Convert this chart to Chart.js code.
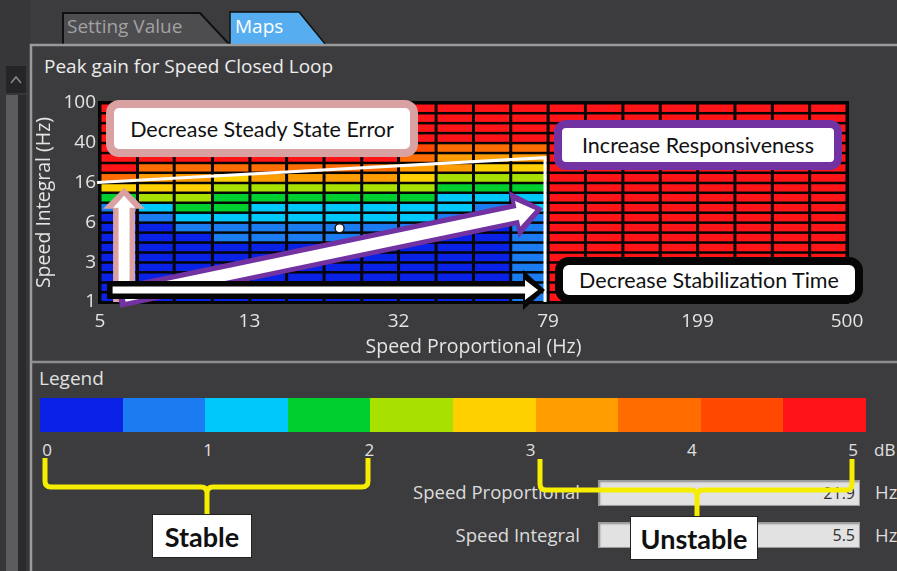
<!DOCTYPE html>
<html>
<head>
<meta charset="utf-8">
<script src="https://cdn.jsdelivr.net/npm/chart.js@4.4.1/dist/chart.umd.min.js"></script>
<style>
html,body{margin:0;padding:0;}
body{width:897px;height:571px;overflow:hidden;background:#3c3c3e;position:relative;font-family:"Open Sans","Noto Sans",sans-serif;color:#e4e4e4;}
.abs{position:absolute;}
.note{position:absolute;box-sizing:border-box;background:#fff;border-style:solid;border-width:8px;display:flex;align-items:center;justify-content:center;font-family:Lato,"Open Sans",sans-serif;font-size:21.5px;color:#111;white-space:nowrap;}
.lbl{position:absolute;font-size:18.5px;color:#dcdcdc;white-space:nowrap;line-height:22px;}
.field{position:absolute;box-sizing:border-box;background:#e2e2e2;border:1px solid #9c9c9c;box-shadow:inset 1px 1px 2px #8a8a8a;font-size:16px;color:#303030;text-align:right;padding-right:4px;line-height:24px;}
.tag{position:absolute;box-sizing:border-box;background:#fff;border:1px solid #222;display:flex;align-items:center;justify-content:center;font-family:Lato,"Open Sans",sans-serif;font-weight:bold;font-size:27px;color:#111;}
</style>
</head>
<body>
<script>
// ---- data ----
// column edges of the map along Speed Proportional (Hz)
const speedProportionalEdges = [5, 6.3, 7.9, 10, 12.6, 15.8, 19.9, 25.1, 31.5, 39.7, 50, 62.9, 79.2, 99.7, 125.6, 158.1, 199.1, 250.6, 315.5, 397.2, 500];
// row edges of the map along Speed Integral (Hz)
const speedIntegralEdges = [1, 1.26, 1.58, 2, 2.51, 3.16, 3.98, 5.01, 6.31, 7.94, 10, 12.6, 15.8, 20, 25.1, 31.6, 39.8, 50.1, 63.1, 79.4, 100];
const xTickValues = [5, 12.56, 31.5, 79.2, 199, 500];
const xTickLabels = ['5', '13', '32', '79', '199', '500'];
const yTickValues = [1, 2.51, 6.31, 15.85, 39.8, 100];
const yTickLabels = ['1', '3', '6', '16', '40', '100'];
// peak gain (dB), one row per Speed Integral band, bottom row first
const peakGainDb = [
  [0.2,0.2,0.2,0.2,0.2,0.2,0.2,0.2,0.2,0.2,0.2,0.7,4.8,4.8,4.8,4.8,4.8,4.8,4.8,4.8],
  [0.2,0.2,0.2,0.2,0.2,0.2,0.2,0.2,0.2,0.2,0.2,0.7,4.8,4.8,4.8,4.8,4.8,4.8,4.8,4.8],
  [0.2,0.2,0.2,0.2,0.2,0.2,0.2,0.2,0.2,0.2,0.2,0.7,4.8,4.8,4.8,4.8,4.8,4.8,4.8,4.8],
  [0.2,0.2,0.2,0.2,0.2,0.2,0.2,0.2,0.2,0.2,0.2,0.7,4.8,4.8,4.8,4.8,4.8,4.8,4.8,4.8],
  [0.2,0.2,0.2,0.2,0.2,0.2,0.2,0.2,0.2,0.2,0.2,0.7,4.8,4.8,4.8,4.8,4.8,4.8,4.8,4.8],
  [0.2,0.2,0.2,0.2,0.2,0.2,0.2,0.2,0.2,0.2,0.2,0.7,4.8,4.8,4.8,4.8,4.8,4.8,4.8,4.8],
  [0.2,0.2,0.2,0.7,0.7,0.7,0.7,0.7,0.3,0.3,0.3,0.7,4.8,4.8,4.8,4.8,4.8,4.8,4.8,4.8],
  [0.3,0.3,0.7,0.7,0.7,0.7,0.7,0.7,0.7,0.4,0.4,0.7,4.8,4.8,4.8,4.8,4.8,4.8,4.8,4.8],
  [0.4,0.7,1.2,1.2,1.2,1.2,1.2,1.2,1.2,0.8,0.8,0.8,4.8,4.8,4.8,4.8,4.8,4.8,4.8,4.8],
  [0.7,1.2,1.7,1.7,1.2,1.2,1.2,1.2,1.2,1.2,0.9,1.2,4.8,4.8,4.8,4.8,4.8,4.8,4.8,4.8],
  [1.7,2.2,2.2,1.7,1.7,1.7,1.7,1.7,1.7,1.3,1.3,1.3,4.8,4.8,4.8,4.8,4.8,4.8,4.8,4.8],
  [2.7,2.7,2.7,2.2,2.2,2.2,2.2,2.2,2.2,1.8,1.8,1.8,4.8,4.8,4.8,4.8,4.8,4.8,4.8,4.8],
  [3.7,3.2,3.2,2.7,3.2,3.2,3.2,3.2,2.8,2.3,2.3,2.3,4.8,4.8,4.8,4.8,4.8,4.8,4.8,4.8],
  [4.6,3.7,3.7,3.7,3.7,3.7,3.7,3.7,3.3,3.3,2.8,2.8,4.8,4.8,4.8,4.8,4.8,4.8,4.8,4.8],
  [4.8,4.8,4.8,4.8,4.8,4.8,4.8,4.7,3.8,3.3,3.3,3.3,4.8,4.8,4.8,4.8,4.8,4.8,4.8,4.8],
  [4.8,4.8,4.8,4.8,4.8,4.8,4.8,4.8,4.3,3.8,3.8,3.8,4.8,4.8,4.8,4.8,4.8,4.8,4.8,4.8],
  [4.8,4.8,4.8,4.8,4.8,4.8,4.8,4.8,4.8,4.8,4.8,4.8,4.8,4.8,4.8,4.8,4.8,4.8,4.8,4.8],
  [4.8,4.8,4.8,4.8,4.8,4.8,4.8,4.8,4.8,4.8,4.8,4.8,4.8,4.8,4.8,4.8,4.8,4.8,4.8,4.8],
  [4.8,4.8,4.8,4.8,4.8,4.8,4.8,4.8,4.8,4.8,4.8,4.8,4.8,4.8,4.8,4.8,4.8,4.8,4.8,4.8],
  [4.8,4.8,4.8,4.8,4.8,4.8,4.8,4.8,4.8,4.8,4.8,4.8,4.8,4.8,4.8,4.8,4.8,4.8,4.8,4.8]
];
// current operating point
const operatingKp = [21.9];
const operatingKi = [5.5];
// colour legend (0.5 dB per band) and its labels
const legendColors = ['#0a22e6','#1a7cf0','#00c8fa','#00cf30','#a8e000','#ffd000','#ff9c00','#ff6c00','#ff4800','#ff1418'];
const legendStepDb = 0.5;
const legendLabels = ['0','1','2','3','4','5'];
</script>

<svg class="abs" style="left:0;top:0" width="897" height="571">
  <rect x="0" y="0" width="30" height="571" fill="#37373a"/>
  <rect x="6" y="95" width="12" height="476" fill="#5c5c5e"/>
  <rect x="18" y="95" width="8" height="476" fill="#2b2b2d"/>
  <rect x="6" y="66" width="20" height="27" fill="#252527"/>
  <polyline points="11,83 16,77 21,83" fill="none" stroke="#8a8a8a" stroke-width="1.5"/>
  <polygon points="63,45 63,13 200,13 230,45" fill="#4d4d50" stroke="#101010" stroke-width="2"/>
  <polygon points="230,45 230,12 299,12 326,45" fill="#56aef0" stroke="#101010" stroke-width="1.5"/>
  <polyline points="31,571 31,45 897,45" fill="none" stroke="#9a9a9c" stroke-width="2.5"/>
  <line x1="31" y1="362" x2="897" y2="362" stroke="#8e8e90" stroke-width="2.5"/>
</svg>
<div class="abs" style="left:67px;top:13px;font-size:19px;color:#a2a2a2;white-space:nowrap;">Setting Value</div>
<div class="abs" style="left:235px;top:13px;font-size:19px;color:#ffffff;">Maps</div>
<div class="abs" style="left:44px;top:53px;font-size:19px;color:#ececec;white-space:nowrap;">Peak gain for Speed Closed Loop</div>

<canvas id="c" class="abs" style="left:30px;top:80px" width="867" height="280"></canvas>

<div class="note" style="left:106px;top:100px;width:312px;height:57px;border-color:#d9a1a1;border-radius:13px;">Decrease Steady State Error</div>
<div class="note" style="left:554px;top:120px;width:288px;height:50px;border-color:#7232a2;border-radius:12px;">Increase Responsiveness</div>
<div class="note" style="left:555px;top:257px;width:308px;height:46px;border-color:#060606;border-radius:14px;">Decrease Stabilization Time</div>

<div class="abs" style="left:39px;top:365px;font-size:19px;color:#e0e0e0;">Legend</div>
<div id="bar" class="abs" style="left:40px;top:398px;width:826px;height:34px;display:flex;"></div>
<div id="barlabels"></div>
<div class="abs" style="left:874px;top:438px;font-size:17px;color:#e0e0e0;">dB</div>

<div class="lbl" style="right:317px;top:481px;">Speed Proportional</div>
<div class="field" style="left:598px;top:480px;width:262px;height:26px;">21.9</div>
<div class="lbl" style="left:875px;top:481px;">Hz</div>
<div class="lbl" style="right:317px;top:524px;">Speed Integral</div>
<div class="field" style="left:598px;top:522px;width:262px;height:26px;">5.5</div>
<div class="lbl" style="left:875px;top:524px;">Hz</div>

<svg class="abs" style="left:0;top:0" width="897" height="571">
  <g fill="none" stroke="#f6ee00" stroke-width="5" stroke-linejoin="round" stroke-linecap="butt">
    <path d="M45,458 V481 Q45,487 51,487 H201 Q207,487 207,493 V514 M207,493 Q207,487 213,487 H362 Q368,487 368,481 V458"/>
    <path d="M540,459 V484 Q540,490 546,490 H691 Q697,490 697,496 V517 M697,496 Q697,490 703,490 H846 Q852,490 852,484 V459"/>
  </g>
</svg>
<div class="tag" style="left:152px;top:514px;width:100px;height:44px;">Stable</div>
<div class="tag" style="left:630px;top:516px;width:128px;height:44px;">Unstable</div>

<script>
const bar = document.getElementById('bar');
legendColors.forEach(c => { const d = document.createElement('div'); d.style.flex = '1'; d.style.background = c; bar.appendChild(d); });
const bl = document.getElementById('barlabels');
legendLabels.forEach((t, i) => {
  const d = document.createElement('div');
  d.className = 'abs';
  d.style.cssText = 'top:438px;font-size:17px;color:#e0e0e0;width:20px;text-align:center;left:' + (37 + i * 161.2) + 'px';
  d.textContent = t; bl.appendChild(d);
});

function colorFor(v) {
  const i = Math.min(legendColors.length - 1, Math.max(0, Math.floor(v / legendStepDb)));
  return legendColors[i];
}

const cells = [];
peakGainDb.forEach((row, r) => row.forEach((v, c) => {
  cells.push({ x: Math.sqrt(speedProportionalEdges[c] * speedProportionalEdges[c + 1]),
               y: Math.sqrt(speedIntegralEdges[r] * speedIntegralEdges[r + 1]), v: v, r: r, c: c });
}));

// annotation geometry in data units (Hz)
const guideLine = [{x: 4.91, y: 15.85}, {x: 77.7, y: 28.2}, {x: 77.7, y: 1}];
const arrows = [
  { from: {x: 5.8, y: 1}, to: {x: 5.8, y: 14.1}, outer: '#d9a1a1', w: 11, hw: 21, hl: 21, wi: 5.5, hwi: 11, hli: 12, inset: 8 },
  { from: {x: 5.59, y: 1.12}, to: {x: 76.8, y: 8.71}, outer: '#7232a2', w: 11, hw: 24, hl: 30, wi: 6, hwi: 13, hli: 18, inset: 8 },
  { from: {x: 5.22, y: 1.32}, to: {x: 77.7, y: 1.32}, outer: '#050505', w: 9, hw: 20, hl: 22, wi: 3.5, hwi: 10, hli: 13, inset: 7 }
];

function arrowPath(ctx, x0, y0, x1, y1, w, hw, hl) {
  const dx = x1 - x0, dy = y1 - y0, L = Math.hypot(dx, dy);
  const ux = dx / L, uy = dy / L, nx = -uy, ny = ux;
  const bx = x1 - ux * hl, by = y1 - uy * hl;
  ctx.beginPath();
  ctx.moveTo(x0 + nx * w, y0 + ny * w);
  ctx.lineTo(bx + nx * w, by + ny * w);
  ctx.lineTo(bx + nx * hw, by + ny * hw);
  ctx.lineTo(x1, y1);
  ctx.lineTo(bx - nx * hw, by - ny * hw);
  ctx.lineTo(bx - nx * w, by - ny * w);
  ctx.lineTo(x0 - nx * w, y0 - ny * w);
  ctx.closePath();
  ctx.fill();
}

const heatmapPlugin = {
  id: 'heatmap',
  beforeDatasetsDraw(chart) {
    const { ctx, chartArea: a, scales: { x, y } } = chart;
    ctx.save();
    ctx.fillStyle = '#050505';
    ctx.fillRect(a.left - 2, a.top - 2, a.width + 4, a.height + 4);
    chart.data.datasets[0].data.forEach(p => {
      const x0 = x.getPixelForValue(speedProportionalEdges[p.c]);
      const x1 = x.getPixelForValue(speedProportionalEdges[p.c + 1]);
      const yTop = y.getPixelForValue(speedIntegralEdges[p.r + 1]);
      const yBot = y.getPixelForValue(speedIntegralEdges[p.r]);
      ctx.fillStyle = colorFor(p.v);
      ctx.fillRect(x0 + 1.5, yTop + 1.5, x1 - x0 - 3, yBot - yTop - 2.5);
    });
    ctx.restore();
  },
  afterDatasetsDraw(chart) {
    const { ctx, scales: { x, y } } = chart;
    ctx.save();
    ctx.strokeStyle = '#ffffff';
    ctx.lineWidth = 3;
    ctx.beginPath();
    guideLine.forEach((p, i) => {
      const px = x.getPixelForValue(p.x), py = y.getPixelForValue(p.y);
      if (i === 0) ctx.moveTo(px, py); else ctx.lineTo(px, py);
    });
    ctx.stroke();
    arrows.forEach(a => {
      const x0 = x.getPixelForValue(a.from.x), y0 = y.getPixelForValue(a.from.y);
      const x1 = x.getPixelForValue(a.to.x), y1 = y.getPixelForValue(a.to.y);
      ctx.fillStyle = a.outer;
      arrowPath(ctx, x0, y0, x1, y1, a.w, a.hw, a.hl);
      const L = Math.hypot(x1 - x0, y1 - y0), ux = (x1 - x0) / L, uy = (y1 - y0) / L;
      ctx.fillStyle = '#ffffff';
      arrowPath(ctx, x0 + ux * a.inset * 0.8, y0 + uy * a.inset * 0.8, x1 - ux * a.inset, y1 - uy * a.inset, a.wi, a.hwi, a.hli);
    });
    ctx.restore();
  }
};

const tickFont = { family: 'Open Sans', size: 19 };
const titleFont = { family: 'Open Sans', size: 19.5 };

new Chart(document.getElementById('c'), {
  type: 'scatter',
  data: {
    datasets: [
      { label: 'Peak gain (dB)', data: cells, pointRadius: 0, pointHoverRadius: 0 },
      { label: 'Operating point', data: operatingKp.map((kp, i) => ({ x: kp, y: operatingKi[i] })),
        pointRadius: 4.5, backgroundColor: '#ffffff', borderColor: '#1a1a1a', borderWidth: 1.5 }
    ]
  },
  options: {
    responsive: false, animation: false, devicePixelRatio: 1,
    layout: { padding: { top: 23, right: 50, left: 0, bottom: 0 } },
    plugins: { legend: { display: false }, tooltip: { enabled: false } },
    scales: {
      x: {
        type: 'logarithmic', min: 5, max: 500,
        grid: { display: false, drawTicks: false }, border: { display: false },
        afterBuildTicks: s => { s.ticks = xTickValues.map(v => ({ value: v })); },
        afterFit: s => { s.height = 58; },
        ticks: { color: '#e4e4e4', font: tickFont, padding: 8, maxRotation: 0, autoSkip: false,
                 callback: (v, i) => xTickLabels[i] },
        title: { display: true, text: 'Speed Proportional (Hz)', color: '#e4e4e4', font: titleFont, padding: { top: 0, bottom: 1 } }
      },
      y: {
        type: 'logarithmic', min: 1, max: 100,
        grid: { display: false, drawTicks: false }, border: { display: false },
        afterBuildTicks: s => { s.ticks = yTickValues.map(v => ({ value: v })); },
        afterFit: s => { s.width = 70; },
        ticks: { color: '#e4e4e4', font: tickFont, padding: 4, autoSkip: false,
                 callback: (v, i) => yTickLabels[i] },
        title: { display: true, text: 'Speed Integral (Hz)', color: '#e4e4e4', font: titleFont, padding: { top: 3, bottom: 0 } }
      }
    }
  },
  plugins: [heatmapPlugin]
});
</script>
</body>
</html>
